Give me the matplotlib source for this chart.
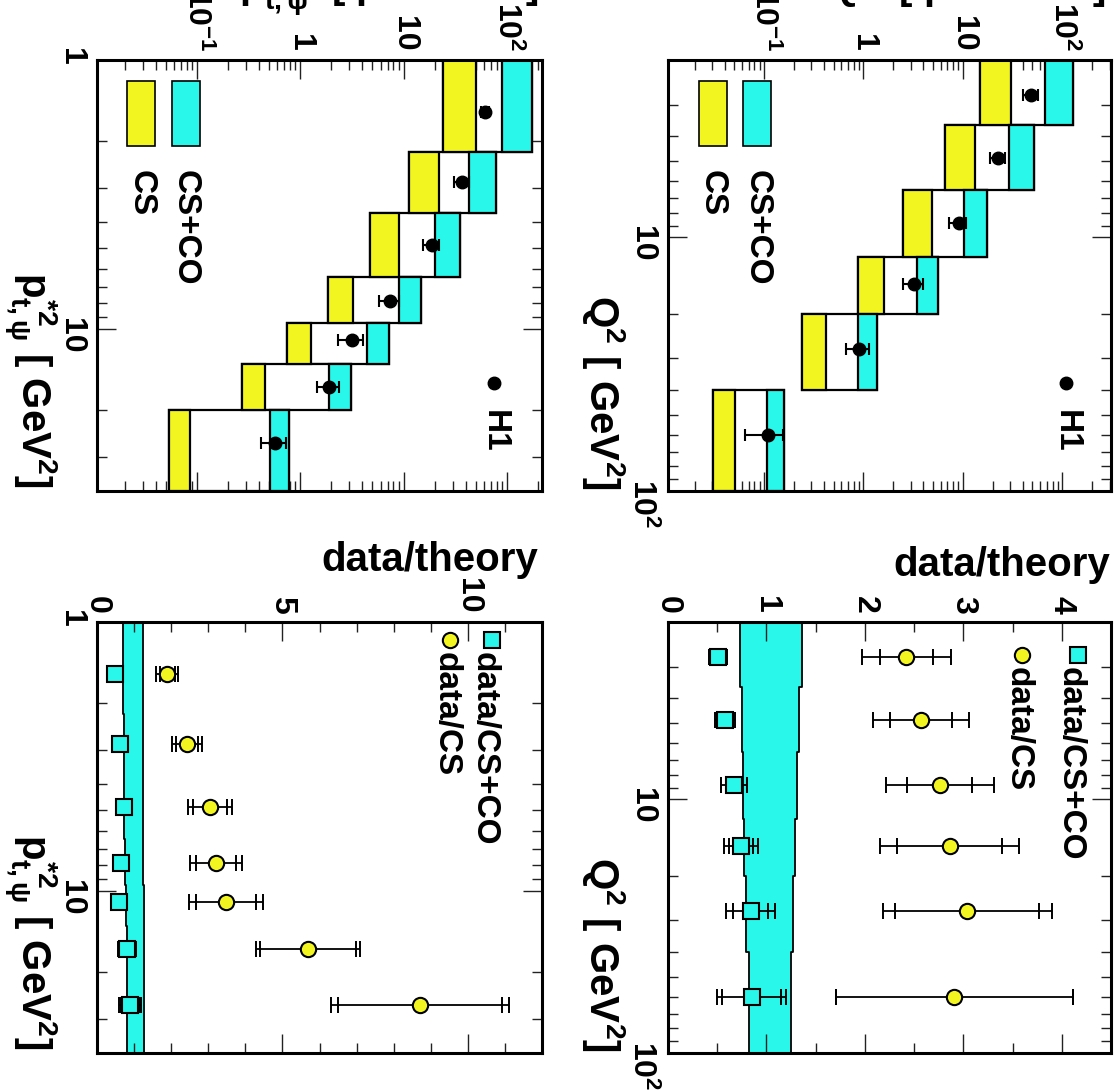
import numpy as np
import matplotlib
matplotlib.use('Agg')
import matplotlib.pyplot as plt
from matplotlib.patches import Rectangle
from matplotlib.lines import Line2D
from matplotlib.ticker import FixedLocator, LogLocator, FuncFormatter, NullFormatter, MultipleLocator

plt.rcParams['font.family'] = ['Liberation Sans', 'DejaVu Sans']
plt.rcParams['font.weight'] = 'bold'
plt.rcParams['mathtext.fontset'] = 'custom'
plt.rcParams['mathtext.rm'] = 'Liberation Sans:bold'
plt.rcParams['mathtext.it'] = 'Liberation Sans:bold'
plt.rcParams['mathtext.bf'] = 'Liberation Sans:bold'
plt.rcParams['mathtext.sf'] = 'Liberation Sans:bold'

YEL = '#f3f520'
CYA = '#28f7ea'

# ---- Q^2 distribution ----
q2_edges = [2, 3.6, 6.5, 12, 20, 40, 100]
q2_pts = [2.76, 4.85, 8.81, 15.3, 27.6, 60.3]
q2_cs_lo = [15.0, 6.65, 2.53, 0.89, 0.240, 0.0304]
q2_cs_hi = [30.5, 13.3, 4.89, 1.61, 0.418, 0.051]
q2_csco_lo = [67.6, 28.9, 10.4, 3.45, 0.878, 0.106]
q2_csco_hi = [130, 52.4, 17.7, 5.61, 1.36, 0.159]
q2_h1 = [48.9, 22.5, 9.06, 3.26, 0.906, 0.109]
q2_h1_err = [8.3, 3.9, 1.8, 0.75, 0.24, 0.045]

q2_r_cs = [2.42, 2.57, 2.76, 2.86, 3.04, 2.91]
q2_r_cs_stat = [0.27, 0.31, 0.33, 0.53, 0.73, 1.2]
q2_r_cs_tot = [0.45, 0.49, 0.55, 0.71, 0.86, 1.2]
q2_r_csco = [0.51, 0.58, 0.67, 0.74, 0.84, 0.85]
q2_r_csco_stat = [0.06, 0.07, 0.08, 0.12, 0.18, 0.3]
q2_r_csco_tot = [0.09, 0.10, 0.13, 0.17, 0.25, 0.35]
q2_band_lo = [0.735, 0.752, 0.762, 0.776, 0.796, 0.820]
q2_band_hi = [1.36, 1.33, 1.31, 1.29, 1.27, 1.25]

# ---- pt*^2 distribution ----
pt2_edges = [1, 2.2, 3.7, 6.4, 9.5, 13.5, 20, 40]
pt2_pts = [1.56, 2.85, 4.89, 7.85, 11.0, 16.4, 26.5]
pt2_cs_lo = [23.9, 11.4, 4.77, 1.85, 0.753, 0.276, 0.0543]
pt2_cs_hi = [50.3, 22.2, 8.95, 3.24, 1.27, 0.458, 0.0861]
pt2_csco_lo = [90.2, 43.3, 20.3, 8.95, 4.43, 1.92, 0.505]
pt2_csco_hi = [176, 78.9, 35.4, 14.8, 7.28, 3.10, 0.788]
pt2_h1 = [61.8, 36.7, 18.8, 7.43, 3.16, 1.92, 0.573]
pt2_h1_err = [5.0, 6.2, 3.5, 1.63, 0.85, 0.48, 0.16]

pt2_r_cs = [1.89, 2.43, 3.05, 3.21, 3.48, 5.69, 8.71]
pt2_r_cs_stat = [0.2, 0.3, 0.45, 0.55, 0.8, 1.3, 2.2]
pt2_r_cs_tot = [0.3, 0.4, 0.6, 0.7, 1.0, 1.4, 2.4]
pt2_r_csco = [0.49, 0.62, 0.73, 0.65, 0.59, 0.81, 0.89]
pt2_r_csco_stat = [0.1, 0.1, 0.12, 0.12, 0.15, 0.2, 0.25]
pt2_r_csco_tot = [0.15, 0.15, 0.17, 0.17, 0.2, 0.25, 0.3]
pt2_band_lo = [0.70, 0.72, 0.74, 0.76, 0.78, 0.80, 0.82]
pt2_band_hi = [1.24, 1.24, 1.25, 1.25, 1.26, 1.26, 1.27]

W, H = 1115, 1090
fig = plt.figure(figsize=(W / 100, H / 100), dpi=100)


def px_axes(x0, y0, x1, y1):
    return fig.add_axes([x0 / W, 1 - y1 / H, (x1 - x0) / W, (y1 - y0) / H])


def fxy(x, y):
    return x / W, 1 - y / H


def style(ax):
    for s in ax.spines.values():
        s.set_linewidth(2.2)
    ax.tick_params(which='both', direction='in', top=True, bottom=True, left=True, right=True,
                   labeltop=True, labelbottom=False, labelleft=True, labelright=False,
                   labelsize=23, width=1.0, color='#222222')
    ax.tick_params(which='major', length=14)
    ax.tick_params(which='minor', length=7)
    ax.tick_params(axis='x', labelrotation=-90, pad=6)
    ax.tick_params(axis='y', labelrotation=-90, pad=8)


def log_labels(v, pos):
    lab = {0.1: r'$10^{-1}$', 1: '1', 10: '10', 100: r'$10^{2}$'}
    for k, s in lab.items():
        if abs(v - k) < 1e-6 * k:
            return s
    return ''


def xsec_panel(ax, edges, pts, cs_lo, cs_hi, csco_lo, csco_hi, h1, h1_err, xlim, ylim, ylabs):
    for i in range(len(pts)):
        y0, y1 = edges[i], edges[i + 1]
        ax.add_patch(Rectangle((cs_lo[i], y0), csco_hi[i] - cs_lo[i], y1 - y0,
                               fc='white', ec='black', lw=1.6, zorder=1))
        ax.add_patch(Rectangle((cs_lo[i], y0), cs_hi[i] - cs_lo[i], y1 - y0,
                               fc=YEL, ec='black', lw=1.6, zorder=2))
        ax.add_patch(Rectangle((csco_lo[i], y0), csco_hi[i] - csco_lo[i], y1 - y0,
                               fc=CYA, ec='black', lw=1.6, zorder=2))
    ax.errorbar(h1, pts, xerr=h1_err, fmt='o', color='black', ms=9, capsize=4,
                elinewidth=1.5, capthick=1.5, zorder=5)
    ax.set_xscale('log')
    ax.set_yscale('log')
    ax.set_xlim(*xlim)
    ax.set_ylim(ylim[1], ylim[0])
    ax.xaxis.set_major_locator(FixedLocator([0.01, 0.1, 1, 10, 100]))
    ax.xaxis.set_major_formatter(FuncFormatter(log_labels))
    ax.xaxis.set_minor_locator(LogLocator(base=10, subs=np.arange(2, 10), numticks=20))
    ax.xaxis.set_minor_formatter(NullFormatter())
    ax.yaxis.set_major_locator(FixedLocator([1, 10, 100]))
    ax.yaxis.set_major_formatter(FuncFormatter(lambda v, p: ylabs.get(round(v), '')))
    ax.yaxis.set_minor_locator(LogLocator(base=10, subs=np.arange(2, 10), numticks=20))
    ax.yaxis.set_minor_formatter(NullFormatter())
    style(ax)


def ratio_panel(ax, edges, pts, r_cs, cs_stat, cs_tot, r_csco, csco_stat, csco_tot,
                band_lo, band_hi, xlim, ylim, ylabs, xmajor, xminor):
    yy = np.repeat(edges, 2)[1:-1]
    lo = np.repeat(band_lo, 2)
    hi = np.repeat(band_hi, 2)
    ax.fill_betweenx(yy, lo, hi, color=CYA, lw=0, zorder=1)
    ax.plot(lo, yy, color='black', lw=1.3, zorder=2)
    ax.plot(hi, yy, color='black', lw=1.3, zorder=2)
    for r, st, tot, mk, col in ((r_cs, cs_stat, cs_tot, 'o', YEL),
                                 (r_csco, csco_stat, csco_tot, 's', CYA)):
        r = np.array(r)
        ax.errorbar(r, pts, xerr=tot, fmt='none', ecolor='black', elinewidth=1.3, zorder=3)
        ax.plot(np.r_[r - np.array(st), r + np.array(st)], np.r_[pts, pts], ls='none',
                marker='|', ms=12, mew=1.4, color='black', zorder=3)
        ax.plot(np.r_[r - np.array(tot), r + np.array(tot)], np.r_[pts, pts], ls='none',
                marker='|', ms=12, mew=1.4, color='black', zorder=3)
        ax.plot(r, pts, ls='none', marker=mk, ms=11, mfc=col, mec='black', mew=1.5, zorder=4)
    ax.set_yscale('log')
    ax.set_xlim(*xlim)
    ax.set_ylim(ylim[1], ylim[0])
    ax.xaxis.set_major_locator(MultipleLocator(xmajor))
    ax.xaxis.set_minor_locator(MultipleLocator(xminor))
    ax.yaxis.set_major_locator(FixedLocator([1, 10, 100]))
    ax.yaxis.set_major_formatter(FuncFormatter(lambda v, p: ylabs.get(round(v), '')))
    ax.yaxis.set_minor_locator(LogLocator(base=10, subs=np.arange(2, 10), numticks=20))
    ax.yaxis.set_minor_formatter(NullFormatter())
    style(ax)


q2_labs = {10: '10', 100: r'$10^{2}$'}
pt2_labs = {1: '1', 10: '10'}

ax1 = px_axes(668, 60, 1111, 491)
xsec_panel(ax1, q2_edges, q2_pts, q2_cs_lo, q2_cs_hi, q2_csco_lo, q2_csco_hi,
           q2_h1, q2_h1_err, (0.0108, 310), (2, 100), q2_labs)
ax2 = px_axes(668, 622, 1111, 1053)
ratio_panel(ax2, q2_edges, q2_pts, q2_r_cs, q2_r_cs_stat, q2_r_cs_tot,
            q2_r_csco, q2_r_csco_stat, q2_r_csco_tot, q2_band_lo, q2_band_hi,
            (0, 4.5), (2, 100), q2_labs, 1, 0.5)
ax3 = px_axes(97, 60, 542, 491)
xsec_panel(ax3, pt2_edges, pt2_pts, pt2_cs_lo, pt2_cs_hi, pt2_csco_lo, pt2_csco_hi,
           pt2_h1, pt2_h1_err, (0.0108, 219), (1, 40), pt2_labs)
ax4 = px_axes(97, 622, 542, 1053)
ratio_panel(ax4, pt2_edges, pt2_pts, pt2_r_cs, pt2_r_cs_stat, pt2_r_cs_tot,
            pt2_r_csco, pt2_r_csco_stat, pt2_r_csco_tot, pt2_band_lo, pt2_band_hi,
            (0, 12), (1, 40), pt2_labs, 5, 1)

# axis titles
tfs = 29
fig.text(*fxy(1106, -1), r'd$\sigma$/dQ$^{2}$  [ pb/GeV$^{2}$ ]', fontsize=tfs, ha='right', va='baseline')
fig.text(*fxy(538, -1), r'd$\sigma$/d$p^{*2}_{t,\psi}$  [ pb/GeV$^{2}$ ]', fontsize=tfs, ha='right', va='baseline')
fig.text(*fxy(1110, 576), 'data/theory', fontsize=tfs, ha='right', va='baseline')
fig.text(*fxy(538, 571), 'data/theory', fontsize=tfs, ha='right', va='baseline')
for y in (490, 1052):
    fig.text(*fxy(603, y), r'Q$^{2}$ [ GeV$^{2}$]', fontsize=tfs, rotation=-90, ha='center', va='bottom')
    fig.text(*fxy(30, y - 2), r'$p^{*2}_{t,\psi}$ [ GeV$^{2}$]', fontsize=tfs, rotation=-90, ha='center', va='bottom')

# legends of cross section panels
lfs = 24
for (xy, xc, xh) in (((699, 743), (712, 757), 1066), ((127, 172), (141, 185), 494)):
    for x0, col in zip(xy, (YEL, CYA)):
        fig.add_artist(Rectangle(fxy(x0, 146), 28 / W, 65 / H, transform=fig.transFigure,
                                 fc=col, ec='black', lw=1.2))
    fig.text(*fxy(xc[0], 170), 'CS', fontsize=lfs, rotation=-90, ha='center', va='top')
    fig.text(*fxy(xc[1], 170), 'CS+CO', fontsize=lfs, rotation=-90, ha='center', va='top')
    fig.add_artist(Line2D([xh / W], [1 - 383 / H], transform=fig.transFigure, marker='o',
                          ms=9, color='black', ls='none'))
    fig.text(*fxy(xh, 410), 'H1', fontsize=lfs, rotation=-90, ha='center', va='top')

# legends of ratio panels
for (xs, xc, yl) in ((1078, 1022, 655), (492, 450, 640)):
    fig.add_artist(Line2D([xs / W], [1 - yl / H], transform=fig.transFigure, marker='s',
                          ms=11, mfc=CYA, mec='black', mew=1.5, ls='none'))
    fig.add_artist(Line2D([xc / W], [1 - yl / H], transform=fig.transFigure, marker='o',
                          ms=11, mfc=YEL, mec='black', mew=1.5, ls='none'))
    fig.text(*fxy(xs - 8, yl + 12), 'data/CS+CO', fontsize=lfs, rotation=-90, ha='center', va='top')
    fig.text(*fxy(xc - 4, yl + 12), 'data/CS', fontsize=lfs, rotation=-90, ha='center', va='top')

fig.savefig('out.png', dpi=100)
